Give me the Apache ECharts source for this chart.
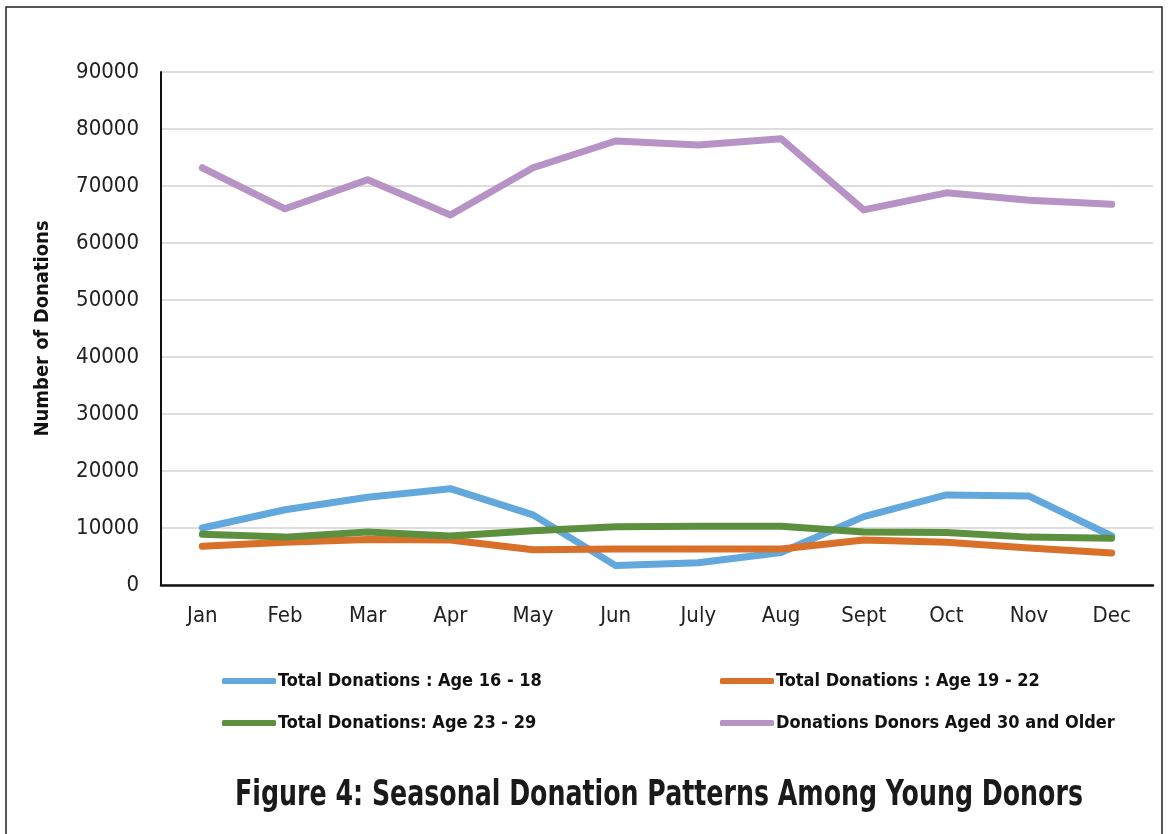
<!DOCTYPE html>
<html>
<head>
<meta charset="utf-8">
<title>Seasonal Donation Patterns</title>
<script src="https://cdn.jsdelivr.net/npm/echarts@6/dist/echarts.min.js"></script>
<style>
  html, body { margin: 0; padding: 0; background: #fff; }
  #main { width: 1168px; height: 834px; }
</style>
</head>
<body>
<div id="main"></div>
<script>
const months = ['Jan', 'Feb', 'Mar', 'Apr', 'May', 'Jun', 'July', 'Aug', 'Sept', 'Oct', 'Nov', 'Dec'];

const age16to18 = [10000, 13200, 15400, 16900, 12300, 3400, 3900, 5700, 12000, 15800, 15600, 8600];
const age19to22 = [6800, 7500, 8000, 7900, 6200, 6300, 6300, 6300, 7900, 7500, 6500, 5600];
const age23to29 = [8900, 8400, 9300, 8600, 9500, 10200, 10300, 10300, 9300, 9200, 8400, 8200];
const age30plus = [73200, 66000, 71100, 64900, 73200, 77900, 77200, 78300, 65800, 68800, 67500, 66800];

const seriesNames = [
    'Total Donations : Age 16 - 18',
    'Total Donations : Age 19 - 22',
    'Total Donations: Age 23 - 29',
    'Donations Donors Aged 30 and Older'
];
const colors = ['#62a8dd', '#d8702a', '#5c903e', '#b792c5'];
const titleText = 'Figure 4: Seasonal Donation Patterns Among Young Donors';

// no narrow font installed, DejaVu condensed is the closest
const font = '"DejaVu Sans Condensed", "Liberation Sans Narrow", sans-serif';

const myChart = echarts.init(document.getElementById('main'));

function lineSeries(i, data) {
    return {
        name: seriesNames[i],
        type: 'line',
        data: data,
        symbol: 'none',
        lineStyle: {width: 7, color: colors[i], cap: 'round', join: 'round'},
        itemStyle: {color: colors[i]},
        z: 2 + i
    };
}

const legendBase = {
    orient: 'vertical',
    top: 672,
    padding: 0,
    itemWidth: 54,
    itemHeight: 6,
    itemGap: 24,
    icon: 'roundRect',
    textStyle: {fontFamily: font, fontWeight: 'bold', fontSize: 18, color: '#111', padding: [0, 0, 0, -3]}
};

let option = {
    animation: false,
    backgroundColor: '#fff',
    legend: [
        Object.assign({left: 222, data: [seriesNames[0], seriesNames[2]]}, legendBase),
        Object.assign({left: 720, data: [seriesNames[1], seriesNames[3]]}, legendBase)
    ],
    grid: {left: 161, right: 15, top: 72, bottom: 249},
    xAxis: {
        type: 'category',
        data: months,
        boundaryGap: true,
        axisLine: {lineStyle: {color: '#111', width: 2.5}},
        axisTick: {show: false},
        axisLabel: {fontFamily: font, fontSize: 22, color: '#222', margin: 20}
    },
    yAxis: {
        type: 'value',
        min: 0,
        max: 90000,
        interval: 10000,
        name: 'Number of Donations',
        nameLocation: 'middle',
        nameGap: 108,
        nameRotate: 90,
        nameTextStyle: {fontFamily: font, fontWeight: 'bold', fontSize: 20, color: '#111'},
        axisLine: {show: true, lineStyle: {color: '#111', width: 2}},
        axisTick: {show: false},
        splitLine: {lineStyle: {color: '#d2d2d2', width: 1.5}},
        axisLabel: {
            fontFamily: font, fontSize: 22, color: '#222', margin: 22,
            formatter: function (v) { return String(v); }
        }
    },
    graphic: [
        {
            type: 'rect',
            shape: {x: 6, y: 7, width: 1156, height: 840},
            style: {fill: null, stroke: '#222', lineWidth: 1.5},
            silent: true
        },
        {
            type: 'text',
            x: 659,
            y: 796,
            scaleX: 0.78,
            style: {
                text: titleText,
                fontFamily: font,
                fontWeight: 'bold',
                fontSize: 36,
                fill: '#1a1a1a',
                align: 'center',
                verticalAlign: 'middle'
            }
        }
    ],
    series: [
        lineSeries(0, age16to18),
        lineSeries(1, age19to22),
        lineSeries(2, age23to29),
        lineSeries(3, age30plus)
    ]
};

myChart.setOption(option);
</script>
</body>
</html>
